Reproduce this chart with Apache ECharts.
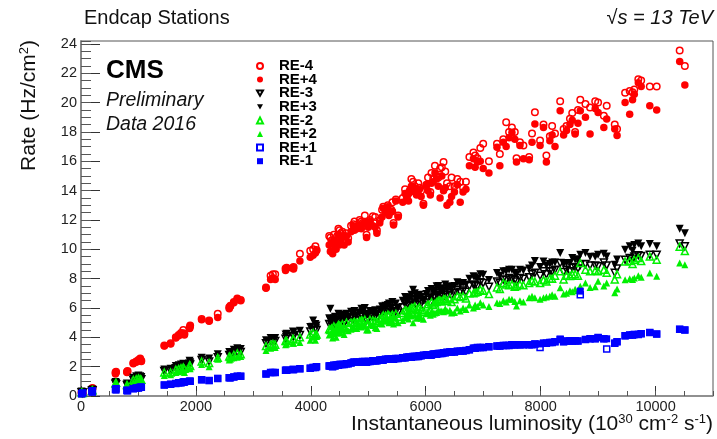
<!DOCTYPE html>
<html>
<head>
<meta charset="utf-8">
<script src="https://cdn.jsdelivr.net/npm/echarts@6/dist/echarts.min.js"></script>
<style>html,body{margin:0;padding:0;background:#fff;}#c{width:717px;height:439px;}</style>
</head>
<body>
<div id="c"></div>
<script>
// Instantaneous luminosity (10^30 cm^-2 s^-1) of each measurement
const lumi = [
  10,30,190,200,600,610,800,810,910,960,
  1000,1030,1050,1450,1560,1650,1700,1740,1780,1800,
  1890,1900,2100,2230,2380,2580,2600,2660,2720,2780,
  3220,3300,3340,3380,3560,3580,3690,3700,3810,3990,
  4040,4080,4100,4340,4360,4380,4400,4420,4460,4500,
  4550,4620,4650,4740,4800,4850,4900,4970,5030,5080,
  5150,5200,5260,5300,5340,5400,5440,5480,5520,5670,
  5720,5780,5840,5890,5960,6010,6080,6130,6190,6250,
  6310,6370,6420,6500,6600,6650,6830,6900,7000,7240,
  7290,7350,7400,7500,7580,7640,7700,7800,7900,7990,
  8050,8100,8160,8250,8340,8450,8510,8600,8690,8780,
  8860,9000,9150,9290,9330,9470,9550,9630,9700,9900,
  10020,10420,10510,
  4320,4440,4480,4520,4580,4700,4760,4880,4940,5000,
  5120,5240,5360,5420,5600,5640,5700,5750,5810,5870,
  5920,6040,6100,6160,6220,6280,6340,6450,6550,6700,
  6760,6860,6950,7100,7450,7550,7850,8200,8400,8550,
  8650,8950,9100,9600,9750
];
// Rates (Hz/cm^2), same order as lumi
const reP4 = [
  0.2,0.15,0.45,0.5,1.5,1.6,1.6,1.65,2.2,2.3,
  2.4,2.5,2.35,3.4,3.55,3.95,4.1,4.2,4.3,4.15,
  4.6,4.75,5.2,5.1,5.35,5.95,6.1,6.35,6.6,6.5,
  7.35,7.95,8.05,7.95,8.55,8.7,8.7,8.65,9.2,9.45,
  9.6,9.75,9.9,9.85,10.4,9.7,10.6,10.2,10.5,10.3,
  10.8,10.9,10.5,11.6,11.4,11.6,11.7,10.8,11.9,11.6,
  11.1,11.8,12.8,12.5,12.9,12.55,11.65,13.3,12.2,13.55,
  13.9,14.2,13.7,14.1,13.0,14.35,13.7,14.6,14.8,13.5,
  14.0,13.0,13.2,13.9,13.2,13.9,16.17,15.95,15.5,16.96,
  15.7,17.3,17.0,17.97,15.95,17.07,16.17,16.1,18.54,17.07,
  18.3,15.95,17.4,17.0,19.45,18.1,18.5,17.86,19.45,19.0,
  17.86,19.33,18.88,18.2,17.75,20.0,19.2,20.57,21.36,19.78,
  19.5,22.8,21.2,
  10.3,10.0,11.0,10.6,10.3,11.2,11.3,11.4,11.9,11.5,
  11.5,12.2,12.3,12.6,13.2,13.8,13.3,14.3,13.9,14.0,
  13.6,14.0,14.5,15.2,14.3,15.0,14.2,13.6,14.4,14.1,
  15.7,15.6,16.0,15.2,17.6,17.5,17.3,17.8,17.8,18.8,
  18.6,19.6,18.3,20.2,21.1
];
const reM4 = [
  0.25,0.2,0.5,0.55,1.6,1.65,1.65,1.7,2.25,2.35,
  2.45,2.55,2.4,3.45,3.6,4.0,4.15,4.3,4.5,4.25,
  4.65,4.8,5.25,5.15,5.6,6.05,6.15,6.4,6.65,6.55,
  7.4,8.2,8.3,8.3,8.7,8.75,8.75,8.8,9.7,9.9,
  10.0,10.2,9.95,10.8,10.6,10.0,11.0,10.5,10.9,11.3,
  11.2,11.1,10.75,11.7,11.5,12.0,11.8,11.0,12.0,12.25,
  11.3,12.0,12.9,12.6,13.0,12.7,11.8,13.4,12.3,13.6,
  14.0,14.6,13.8,14.2,13.1,14.4,13.9,14.8,15.0,15.5,
  15.95,14.5,14.3,14.3,14.6,14.2,16.6,16.2,17.2,17.2,
  16.5,17.5,18.66,18.3,16.2,17.3,17.07,16.3,19.34,17.41,
  18.5,16.4,17.7,17.9,20.1,18.4,18.9,18.0,20.2,19.9,
  19.67,20.0,19.78,18.5,18.2,20.68,20.8,20.9,21.6,21.1,
  21.1,23.55,22.5,
  10.9,10.6,11.4,11.1,10.9,11.6,11.9,11.9,12.3,11.8,
  12.2,12.7,12.6,13.2,13.5,14.1,13.8,14.8,14.3,14.5,
  14.0,14.9,15.2,15.7,14.9,15.6,15.3,14.9,14.8,14.6,
  16.3,16.4,16.9,16.0,18.0,18.0,17.9,18.4,18.2,19.3,
  19.5,20.1,19.1,20.7,21.5
];
const reP3 = [
  0.3,0.25,0.4,0.45,0.95,0.9,0.85,0.8,1.25,1.35,
  1.4,1.35,1.3,1.8,1.85,2.05,2.1,2.15,2.2,2.1,
  2.4,2.3,2.6,2.55,2.85,3.0,2.95,3.15,3.25,3.2,
  3.8,3.95,3.9,3.95,4.2,4.25,4.4,4.35,4.45,4.7,
  5.15,4.9,4.8,5.95,5.15,5.0,5.3,5.4,5.2,5.5,
  5.55,5.6,5.4,5.6,5.5,5.7,5.75,5.45,5.8,5.7,
  5.6,5.9,6.1,6.15,6.2,6.05,5.8,6.3,6.0,6.55,
  6.7,7.25,6.6,6.9,6.5,6.95,6.7,7.1,7.49,7.3,
  7.2,7.4,7.49,7.5,7.6,7.71,8.16,8.0,8.27,8.38,
  8.2,8.5,8.5,8.6,8.3,8.6,8.55,8.7,9.2,8.8,
  9.17,8.9,9.0,9.1,9.74,9.06,9.06,9.3,9.63,9.74,
  9.5,9.63,9.51,8.95,9.3,9.97,10.2,10.3,10.4,10.37,
  10.2,11.4,11.1,
  5.3,5.1,5.6,5.45,5.35,5.75,5.8,5.95,6.0,5.6,
  5.85,6.1,6.3,6.4,6.5,6.75,6.6,6.9,7.0,6.8,
  6.75,7.15,7.3,7.2,7.5,7.35,7.6,7.3,7.75,7.6,
  8.0,8.1,8.3,7.9,8.6,8.4,8.9,9.1,9.0,9.4,
  9.3,9.5,9.7,9.9,10.2
];
const reM3 = [
  0.25,0.2,0.35,0.4,0.85,0.8,0.75,0.7,1.1,1.2,
  1.25,1.2,1.15,1.7,1.7,1.9,1.95,2.0,2.05,1.95,
  2.2,2.15,2.45,2.35,2.65,2.8,2.75,2.9,3.0,3.0,
  3.6,3.7,3.65,3.75,3.9,4.0,4.1,4.05,4.15,4.4,
  4.7,4.6,4.5,5.2,4.85,4.7,5.0,5.1,4.9,5.1,
  5.2,5.25,5.1,5.3,5.2,5.4,5.4,5.15,5.5,5.4,
  5.3,5.6,5.8,5.75,5.85,5.7,5.5,5.95,5.7,6.15,
  6.3,6.6,6.2,6.5,6.1,6.55,6.35,6.7,6.9,6.8,
  6.75,6.9,7.0,7.0,7.1,7.2,7.6,7.5,7.7,7.8,
  7.7,7.95,7.9,8.0,7.8,8.05,8.0,8.1,8.4,8.2,
  8.5,8.3,8.5,8.6,9.06,8.6,8.5,8.8,8.95,9.0,
  8.9,8.84,8.9,8.4,8.7,9.29,9.4,9.51,9.6,9.63,
  9.63,10.4,10.2,
  4.9,4.7,5.2,5.05,4.95,5.35,5.4,5.5,5.55,5.25,
  5.45,5.7,5.9,5.95,6.05,6.3,6.2,6.45,6.55,6.4,
  6.3,6.7,6.85,6.75,7.0,6.9,7.1,6.85,7.25,7.1,
  7.5,7.55,7.75,7.45,8.05,7.9,8.3,8.5,8.45,8.75,
  8.7,8.9,9.1,9.35,9.55
];
const reM2 = [
  0.25,0.2,0.35,0.4,0.85,0.9,0.75,0.7,1.1,1.15,
  1.2,1.15,1.1,1.6,1.6,1.8,1.85,1.9,1.95,1.85,
  2.1,2.05,2.35,2.25,2.6,2.7,2.65,2.8,2.9,2.85,
  3.4,3.5,3.55,3.5,3.75,3.75,3.9,3.85,4.0,4.2,
  4.3,4.15,4.2,4.5,4.6,4.3,4.75,4.65,4.7,4.8,
  4.9,5.0,4.75,5.0,5.0,5.1,5.1,4.9,5.2,5.15,
  5.0,5.3,5.5,5.45,5.55,5.45,5.2,5.6,5.4,5.8,
  5.9,6.0,5.85,6.05,5.75,6.1,5.95,6.2,6.4,6.5,
  6.6,6.5,6.7,6.6,6.75,6.8,7.0,7.1,7.17,7.4,
  7.3,7.7,7.6,7.6,7.5,7.6,7.55,7.7,7.8,7.7,
  7.9,7.8,8.0,8.2,8.5,8.2,8.18,8.3,9.06,8.61,
  8.5,8.5,8.4,7.95,8.3,9.17,9.2,9.29,9.4,9.51,
  9.29,10.18,9.88,
  4.55,4.4,4.85,4.75,4.6,5.0,5.05,5.15,5.2,4.95,
  5.1,5.35,5.5,5.55,5.65,5.85,5.75,6.0,6.1,5.95,
  5.85,6.25,6.4,6.3,6.5,6.45,6.6,6.4,6.8,6.65,
  7.0,7.05,7.25,6.95,7.55,7.45,7.85,8.0,7.95,8.3,
  8.2,8.55,8.6,9.0,9.2
];
const reP2 = [
  0.2,0.15,0.3,0.35,0.75,0.8,0.65,0.6,0.95,1.0,
  1.05,1.1,1.0,1.4,1.45,1.6,1.65,1.7,1.75,1.6,
  1.9,1.85,2.15,2.0,2.5,2.45,2.5,2.6,2.65,2.7,
  3.1,3.25,3.3,3.3,3.5,3.55,3.6,3.6,3.65,3.8,
  4.0,3.8,4.05,4.2,4.3,3.95,4.4,4.35,4.3,4.5,
  4.5,4.6,4.45,4.7,4.6,4.75,4.8,4.5,4.85,4.8,
  4.6,4.95,5.2,5.1,5.2,5.1,4.9,5.3,5.0,5.45,
  5.5,5.0,5.3,5.6,5.24,5.6,5.5,5.57,5.7,5.8,
  5.75,5.8,5.85,5.7,5.8,6.0,6.0,6.1,6.2,6.36,
  6.3,6.5,6.4,6.6,6.13,6.5,6.4,6.7,6.7,6.6,
  6.7,6.75,6.8,6.8,7.38,7.0,7.17,7.27,7.49,7.7,
  7.4,7.82,7.7,7.04,7.3,7.93,8.0,8.04,8.2,8.38,
  8.16,9.06,8.95,
  4.15,4.0,4.4,4.3,4.2,4.55,4.6,4.7,4.75,4.5,
  4.65,4.9,5.0,5.05,5.15,5.35,5.25,5.45,5.5,5.4,
  5.3,5.65,5.75,5.65,5.85,5.8,5.95,5.65,6.0,5.9,
  6.2,6.2,6.35,6.1,6.6,6.45,6.8,6.9,6.95,7.1,
  7.2,7.45,7.5,7.95,8.1
];
const reP1 = [
  0.15,0.2,0.3,0.35,0.45,0.5,0.4,0.35,0.5,0.55,
  0.55,0.6,0.6,0.75,0.8,0.85,0.9,0.9,0.95,0.95,
  1.0,1.0,1.1,1.05,1.2,1.25,1.25,1.3,1.35,1.35,
  1.5,1.6,1.6,1.6,1.75,1.75,1.8,1.8,1.85,1.9,
  1.95,1.95,2.0,2.05,2.05,2.0,2.1,2.05,2.1,2.15,
  2.15,2.2,2.2,2.3,2.3,2.3,2.35,2.3,2.35,2.4,
  2.4,2.45,2.45,2.5,2.5,2.5,2.5,2.55,2.55,2.65,
  2.65,2.7,2.7,2.75,2.78,2.8,2.8,2.85,2.85,2.9,
  2.95,2.98,3.0,3.0,3.05,3.06,3.25,3.3,3.3,3.4,
  3.4,3.45,3.45,3.5,3.5,3.5,3.5,3.5,3.55,3.3,
  3.6,3.6,3.65,3.7,3.85,3.75,3.75,3.77,6.9,3.85,
  3.9,3.99,3.2,3.6,3.7,4.1,4.15,4.2,4.2,4.33,
  4.22,4.55,4.5,
  2.05,2.1,2.1,2.15,2.15,2.25,2.3,2.3,2.35,2.35,
  2.4,2.45,2.5,2.5,2.6,2.6,2.65,2.65,2.7,2.7,
  2.75,2.8,2.8,2.85,2.9,2.9,2.95,3.0,3.05,3.1,
  3.15,3.25,3.3,3.35,3.45,3.5,3.5,3.65,3.7,3.75,
  3.75,3.9,3.9,4.15,4.25
];
const reM1 = [
  0.15,0.2,0.3,0.25,0.45,0.4,0.35,0.4,0.5,0.55,
  0.55,0.6,0.6,0.75,0.8,0.85,0.9,0.9,0.95,0.95,
  1.0,1.0,1.1,1.05,1.2,1.25,1.25,1.3,1.35,1.35,
  1.5,1.6,1.6,1.6,1.75,1.75,1.8,1.8,1.85,1.9,
  1.95,1.95,2.0,2.05,2.05,2.0,2.1,2.05,2.1,2.15,
  2.15,2.2,2.2,2.3,2.3,2.3,2.35,2.3,2.35,2.4,
  2.4,2.45,2.45,2.5,2.5,2.5,2.5,2.55,2.55,2.65,
  2.65,2.7,2.7,2.75,2.78,2.8,2.8,2.87,2.85,2.9,
  2.95,2.98,3.0,3.0,3.05,3.06,3.25,3.3,3.3,3.4,
  3.4,3.45,3.45,3.5,3.5,3.5,3.5,3.5,3.55,3.55,
  3.6,3.6,3.65,3.7,3.88,3.75,3.75,3.77,7.15,3.85,
  3.9,3.99,3.9,3.6,3.7,4.1,4.15,4.2,4.2,4.33,
  4.22,4.55,4.5,
  2.05,2.1,2.1,2.15,2.15,2.25,2.3,2.3,2.35,2.35,
  2.4,2.45,2.5,2.5,2.6,2.6,2.65,2.65,2.7,2.7,
  2.75,2.8,2.8,2.85,2.9,2.9,2.95,3.0,3.05,3.1,
  3.15,3.25,3.3,3.35,3.45,3.5,3.5,3.65,3.7,3.75,
  3.75,3.9,3.9,4.15,4.25
];
const xTicks = { min: 0, max: 11000, major: 2000, minor: 500 };
const yTicks = { min: 0, max: 24.2, major: 2, minor: 0.5 };
const legendNames = ['RE-4', 'RE+4', 'RE-3', 'RE+3', 'RE-2', 'RE+2', 'RE+1', 'RE-1'];

const FONT = "'Liberation Sans', Arial, Helvetica, sans-serif";
const DOWN_TRI = 'path://M0,0 L10,0 L5,8.66 Z';
const pts = arr => lumi.map((x, i) => [x, arr[i]]);
const HOLLOW = 'rgba(255,255,255,0)';
function sc(name, arr, symbol, size, color, open, rotate) {
  return {
    name, type: 'scatter', data: pts(arr), symbol, symbolSize: size,
    symbolRotate: rotate || 0,
    itemStyle: open ? { color: HOLLOW, borderColor: color, borderWidth: 1.5, opacity: 1 }
                    : { color: color, borderWidth: 0, opacity: 1 },
    emphasis: { disabled: true }, silent: true, z: 3
  };
}
const series = [
  sc('RE-4', reM4, 'circle', 6.5, '#ff0000', true),
  sc('RE+4', reP4, 'circle', 7.5, '#ff0000', false),
  sc('RE-3', reM3, 'triangle', 7, '#000000', true, 180),
  sc('RE+3', reP3, 'triangle', 8, '#000000', false, 180),
  sc('RE-2', reM2, 'triangle', 7, '#00f000', true),
  sc('RE+2', reP2, 'triangle', 7, '#00f000', false),
  sc('RE+1', reP1, 'rect', 6, '#0000ff', true),
  sc('RE-1', reM1, 'rect', 7, '#0000ff', false)
];
const legendData = legendNames.map(n => (n === 'RE-3' || n === 'RE+3') ? { name: n, icon: DOWN_TRI } : { name: n });

const chart = echarts.init(document.getElementById('c'), null, { renderer: 'canvas' });
chart.setOption({
  animation: false,
  backgroundColor: '#fff',
  grid: { left: 81, top: 41, width: 632, height: 355, show: true, borderColor: '#555', borderWidth: 1, backgroundColor: 'transparent' },
  legend: {
    orient: 'vertical', left: 256, top: 58.5, padding: 0, itemWidth: 6, itemHeight: 6, itemGap: -1.4,
    selectedMode: false, symbolKeepAspect: true, symbolRotate: 0,
    textStyle: { fontFamily: FONT, fontSize: 15, fontWeight: 'bold', color: '#000', padding: [0, 0, 0, 11] },
    data: legendData
  },
  xAxis: [
    { type: 'value', min: xTicks.min, max: xTicks.max, interval: xTicks.major, position: 'bottom',
      axisLine: { show: true, onZero: false, lineStyle: { color: '#888', width: 1.5 } },
      axisTick: { show: true, inside: true, length: 10, lineStyle: { color: '#333' } },
      axisLabel: { fontFamily: FONT, fontSize: 14.5, color: '#222', margin: 3, showMaxLabel: false,
        formatter: v => (v % xTicks.major === 0 ? String(v) : '') },
      splitLine: { show: false } },
    { type: 'value', min: xTicks.min, max: xTicks.max, interval: xTicks.minor, position: 'bottom',
      axisLine: { show: false }, axisLabel: { show: false }, splitLine: { show: false },
      axisTick: { show: true, inside: true, length: 5, lineStyle: { color: '#555' } } }
  ],
  yAxis: [
    { type: 'value', min: yTicks.min, max: yTicks.max, interval: yTicks.major, position: 'left',
      axisLine: { show: true, onZero: false, lineStyle: { color: '#888', width: 2 } },
      axisTick: { show: true, inside: true, length: 19, lineStyle: { color: '#333' } },
      axisLabel: { fontFamily: FONT, fontSize: 14.5, color: '#222', margin: 4, showMaxLabel: false,
        formatter: v => (Math.abs(v % yTicks.major) < 1e-9 ? String(v) : '') },
      splitLine: { show: false } },
    { type: 'value', min: yTicks.min, max: yTicks.max, interval: yTicks.minor, position: 'left',
      axisLine: { show: false }, axisLabel: { show: false }, splitLine: { show: false },
      axisTick: { show: true, inside: true, length: 10, lineStyle: { color: '#555' } } }
  ],
  series: series,
  graphic: [
    { type: 'text', left: 84, top: 8, style: { text: 'Endcap Stations', font: '20px ' + FONT, fill: '#111' } },
    { type: 'text', right: 4, top: 8, style: { text: '√s = 13 TeV', font: 'italic 20px ' + FONT, fill: '#111' } },
    { type: 'text', left: 106, top: 58, style: { text: 'CMS', font: 'bold 26px ' + FONT, fill: '#000' } },
    { type: 'text', left: 106, top: 91, style: { text: 'Preliminary', font: 'italic 19.5px ' + FONT, fill: '#111' } },
    { type: 'text', left: 106, top: 115, style: { text: 'Data 2016', font: 'italic 19.5px ' + FONT, fill: '#111' } },
    { type: 'text', x: 713, y: 424, style: {
        text: 'Instantaneous luminosity (10{s|30} cm{s|-2} s{s|-1})',
        font: '21px ' + FONT, fill: '#111', align: 'right', verticalAlign: 'middle',
        rich: { s: { fontSize: 13, fontFamily: FONT, verticalAlign: 'top', lineHeight: 22 } } } },
    { type: 'text', x: 29, y: 40, rotation: Math.PI / 2, style: {
        text: 'Rate (Hz/cm{s|2})',
        font: '21px ' + FONT, fill: '#111', align: 'right', verticalAlign: 'middle',
        rich: { s: { fontSize: 13, fontFamily: FONT, verticalAlign: 'top', lineHeight: 22 } } } }
  ]
});
</script>
</body>
</html>
